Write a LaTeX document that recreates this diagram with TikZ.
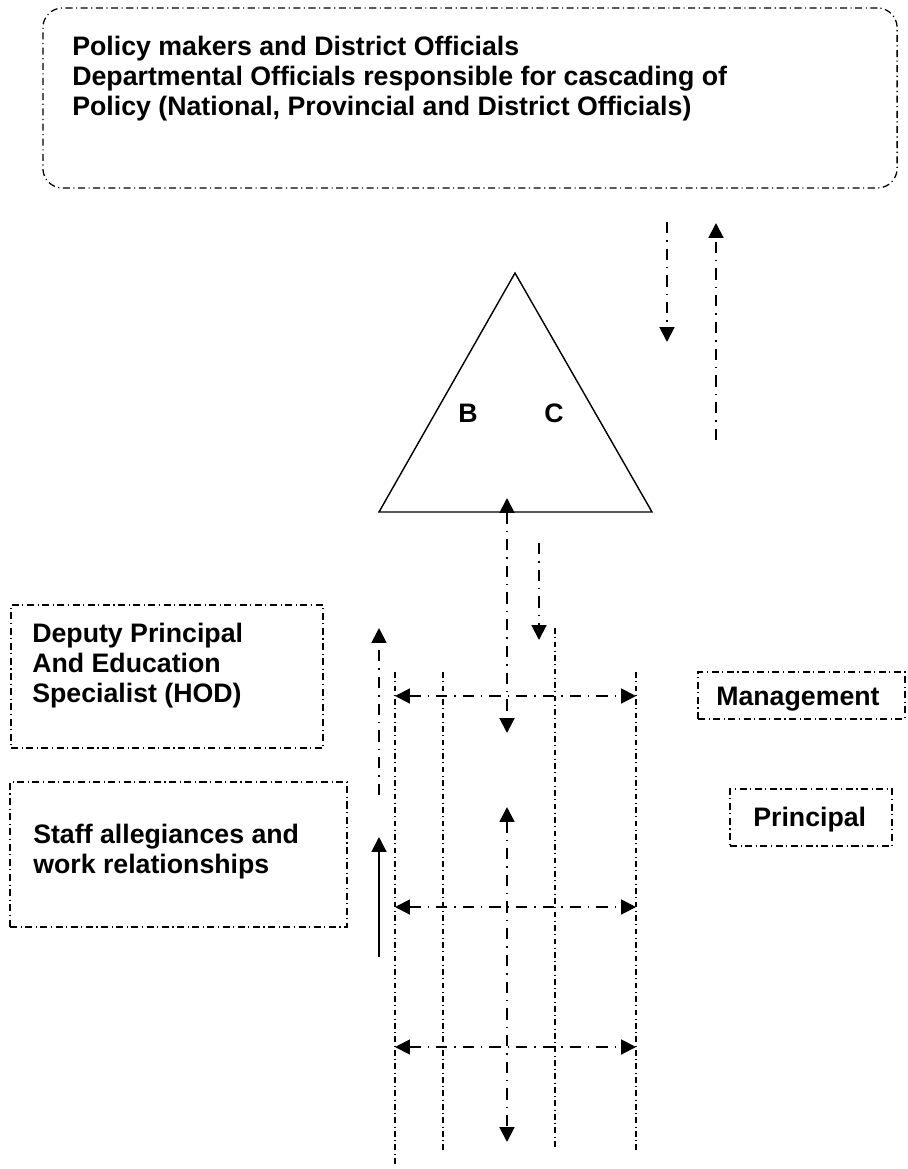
\documentclass[tikz,border=0pt]{standalone}
\usepackage{fontspec}
\setmainfont{Liberation Sans}
\usetikzlibrary{arrows.meta,positioning}

\begin{document}
\begin{tikzpicture}[
    x=0.025cm, y=-0.025cm,
    frame/.style={draw, line width=0.9pt, dash pattern=on 5pt off 2.5pt on 0.8pt off 2.5pt, inner sep=0pt},
    txt/.style={anchor=north west, inner sep=0pt, align=left, font=\fontsize{19}{21.3}\selectfont\bfseries},
    gridline/.style={line width=0.8pt, dash pattern=on 4pt off 2.5pt on 0.6pt off 2.5pt},
    flow/.style={line width=1.4pt, dash pattern=on 8pt off 5pt on 1pt off 5pt},
    headend/.style={-{Triangle[length=10.5pt,width=10.5pt]}},
    headboth/.style={{Triangle[length=10.5pt,width=10.5pt]}-{Triangle[length=10.5pt,width=10.5pt]}}
  ]
    \useasboundingbox (0,0) rectangle (907,1169);

    \node[frame, rounded corners=14pt, minimum width=21.35cm, minimum height=4.5cm] (polbox) at (470,98) {};
    \node[txt] (pol) at (72,36) {Policy makers and District Officials\\Departmental Officials responsible for cascading of\\Policy (National, Provincial and District Officials)};

    \node[frame, minimum width=7.8cm, minimum height=3.575cm] (depbox) at (167,676.5) {};
    \node[txt] (dep) at (32,623) {Deputy Principal\\And Education\\Specialist (HOD)};

    \node[frame, minimum width=5.175cm, minimum height=1.175cm] (mgmtbox) at (801.5,695.5) {};
    \node[txt] (mgmt) at (716,687) {Management};

    \node[frame, minimum width=4.05cm, minimum height=1.425cm] (prinbox) at (811,817.5) {};
    \node[txt] (prin) at (753,807) {Principal};

    \node[frame, minimum width=8.425cm, minimum height=3.625cm] (staffbox) at (178.5,854.5) {};
    \node[txt] (staff) at (33,824) {Staff allegiances and\\work relationships};

    \coordinate (apex) at (515,273);
    \coordinate (bl) at (379,512);
    \coordinate (br) at (652,512);
    \draw[line width=1pt] (apex) -- (bl) -- (br) -- cycle;
    \node[txt, anchor=center] (b) at (468,413) {B};
    \node[txt, anchor=center] (c) at (554,413) {C};

    \coordinate (d1) at (667,222);
    \coordinate (d2) at (667,342);
    \coordinate (u1) at (716,440);
    \coordinate (u2) at (716,223);
    \draw[flow, headend] (d1) -- (d2);
    \draw[flow, headend] (u1) -- (u2);

    \foreach \x/\top/\bot in {395/672/1167, 443/672/1153, 555/628/1150, 636/672/1153}
      \draw[gridline] (\x,\top) -- (\x,\bot);

    \coordinate (m1) at (507,498);
    \coordinate (m2) at (507,733);
    \coordinate (m3) at (507,807);
    \coordinate (m4) at (507,1142);
    \draw[flow, headboth] (m1) -- (m2);
    \draw[flow, headboth] (m3) -- (m4);

    \coordinate (s1) at (539,543);
    \coordinate (s2) at (539,640);
    \draw[flow, headend] (s1) -- (s2);

    \coordinate (l1) at (379,795);
    \coordinate (l2) at (379,628);
    \coordinate (l3) at (379,957);
    \coordinate (l4) at (379,837);
    \draw[flow, headend] (l1) -- (l2);
    \draw[line width=1.4pt, headend] (l3) -- (l4);

    \foreach \y [count=\i] in {696, 907, 1047} {
      \coordinate (h\i a) at (395,\y);
      \coordinate (h\i b) at (636,\y);
      \draw[flow, headboth] (h\i a) -- (h\i b);
    }
  \end{tikzpicture}
\end{document}
